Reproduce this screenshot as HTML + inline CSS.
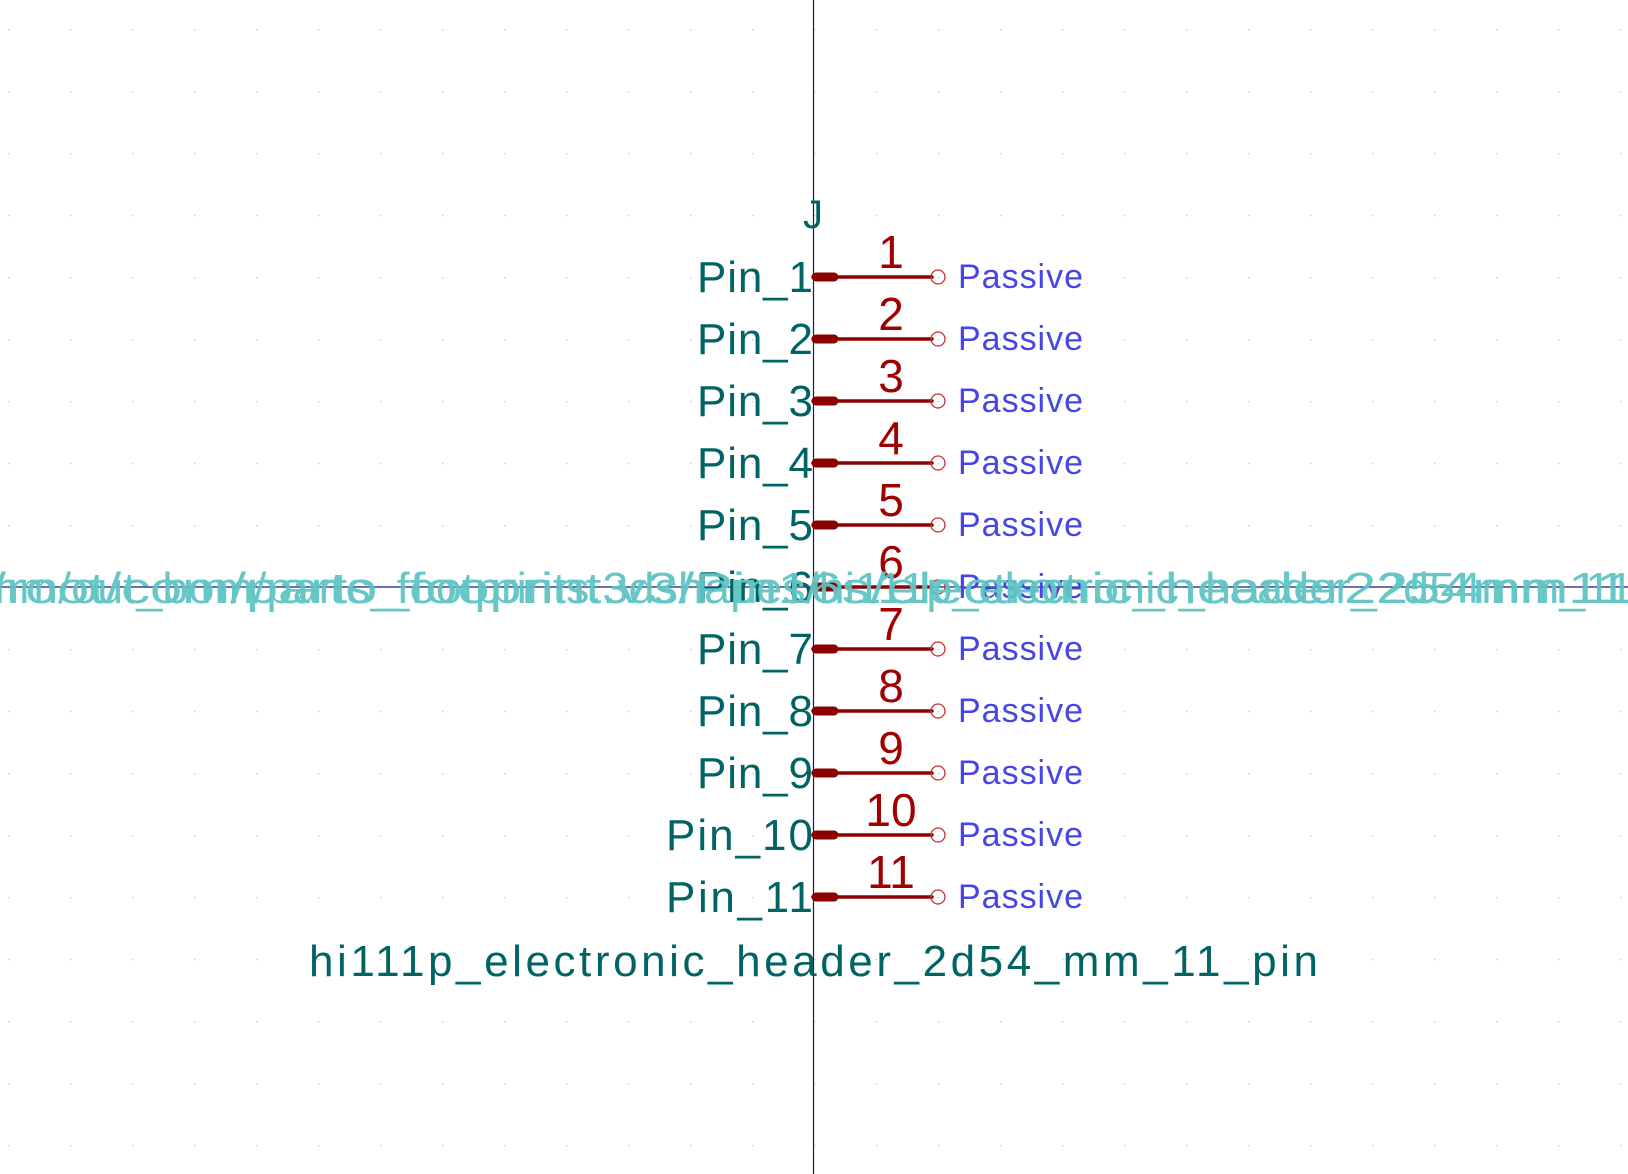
<!DOCTYPE html>
<html><head><meta charset="utf-8"><style>
html,body{margin:0;padding:0;background:#fff;width:1628px;height:1174px;overflow:hidden}
svg{display:block}
text{font-family:"Liberation Sans","DejaVu Sans",sans-serif}
</style></head><body>
<svg width="1628" height="1174" viewBox="0 0 1628 1174" xmlns="http://www.w3.org/2000/svg">
<defs>
<pattern id="g" x="8" y="29" width="62" height="62" patternUnits="userSpaceOnUse">
<rect x="0" y="0" width="1.3" height="1.3" fill="#c8c8c8"/>
</pattern>
</defs>
<rect width="1628" height="1174" fill="url(#g)"/>
<line x1="813.5" y1="0" x2="813.5" y2="1174" stroke="#1a1a50" stroke-width="1.2"/>
<line x1="0" y1="587" x2="1628" y2="587" stroke="#1a1a7a" stroke-width="1.2"/>
<text x="813" y="228" font-size="40" fill="#006464" text-anchor="middle">J</text>
<g id="pins">
<g fill="#006464" font-size="44">
<text x="697" y="292" textLength="116">Pin_1</text>
<text x="697" y="354" textLength="116">Pin_2</text>
<text x="697" y="416" textLength="116">Pin_3</text>
<text x="697" y="478" textLength="116">Pin_4</text>
<text x="697" y="540" textLength="116">Pin_5</text>
<text x="697" y="602" textLength="116">Pin_6</text>
<text x="697" y="664" textLength="116">Pin_7</text>
<text x="697" y="726" textLength="116">Pin_8</text>
<text x="697" y="788" textLength="116">Pin_9</text>
<text x="666" y="850" textLength="147">Pin_10</text>
<text x="666" y="912" textLength="147">Pin_11</text>
</g>
<g fill="#a00000" font-size="46" text-anchor="middle">
<text x="891" y="268">1</text><text x="891" y="330">2</text><text x="891" y="392">3</text>
<text x="891" y="454">4</text><text x="891" y="516">5</text><text x="891" y="578">6</text>
<text x="891" y="640">7</text><text x="891" y="702">8</text><text x="891" y="764">9</text>
<text x="891" y="826">10</text><text x="891" y="888">11</text>
</g>
<g fill="#4646e6" font-size="34">
<text x="958" y="288" textLength="125">Passive</text><text x="958" y="350" textLength="125">Passive</text>
<text x="958" y="412" textLength="125">Passive</text><text x="958" y="474" textLength="125">Passive</text>
<text x="958" y="536" textLength="125">Passive</text><text x="958" y="598" textLength="125">Passive</text>
<text x="958" y="660" textLength="125">Passive</text><text x="958" y="722" textLength="125">Passive</text>
<text x="958" y="784" textLength="125">Passive</text><text x="958" y="846" textLength="125">Passive</text>
<text x="958" y="908" textLength="125">Passive</text>
</g>
</g>
<g stroke="#8b0000" stroke-linecap="round">
<g stroke-width="3.5">
<line x1="813" y1="277" x2="932" y2="277"/><line x1="813" y1="339" x2="932" y2="339"/>
<line x1="813" y1="401" x2="932" y2="401"/><line x1="813" y1="463" x2="932" y2="463"/>
<line x1="813" y1="525" x2="932" y2="525"/><line x1="813" y1="587" x2="932" y2="587"/>
<line x1="813" y1="649" x2="932" y2="649"/><line x1="813" y1="711" x2="932" y2="711"/>
<line x1="813" y1="773" x2="932" y2="773"/><line x1="813" y1="835" x2="932" y2="835"/>
<line x1="813" y1="897" x2="932" y2="897"/>
</g>
<g stroke-width="9">
<line x1="816" y1="277" x2="834" y2="277"/><line x1="816" y1="339" x2="834" y2="339"/>
<line x1="816" y1="401" x2="834" y2="401"/><line x1="816" y1="463" x2="834" y2="463"/>
<line x1="816" y1="525" x2="834" y2="525"/><line x1="816" y1="587" x2="834" y2="587"/>
<line x1="816" y1="649" x2="834" y2="649"/><line x1="816" y1="711" x2="834" y2="711"/>
<line x1="816" y1="773" x2="834" y2="773"/><line x1="816" y1="835" x2="834" y2="835"/>
<line x1="816" y1="897" x2="834" y2="897"/>
</g>
</g>
<g fill="none" stroke="#c83232" stroke-width="1.3">
<circle cx="938" cy="277" r="7"/><circle cx="938" cy="339" r="7"/><circle cx="938" cy="401" r="7"/>
<circle cx="938" cy="463" r="7"/><circle cx="938" cy="525" r="7"/><circle cx="938" cy="587" r="7"/>
<circle cx="938" cy="649" r="7"/><circle cx="938" cy="711" r="7"/><circle cx="938" cy="773" r="7"/>
<circle cx="938" cy="835" r="7"/><circle cx="938" cy="897" r="7"/>
</g>
<g fill="#5fc3c3" font-size="44" opacity="0.95">
<text x="-20" y="603" textLength="1680" lengthAdjust="spacingAndGlyphs">mm/out_bom/parts_footprints.3dshapes/hi111p_electronic_header_2d54mm_11p</text>
<text x="-10" y="603" textLength="1670" lengthAdjust="spacingAndGlyphs">/root/com/parto_fooprint.v3/Pin16s/electronic_header2254mm11p</text>
</g>
<text x="309" y="976" font-size="44" fill="#006464" textLength="1009">hi111p_electronic_header_2d54_mm_11_pin</text>
</svg>
</body></html>
